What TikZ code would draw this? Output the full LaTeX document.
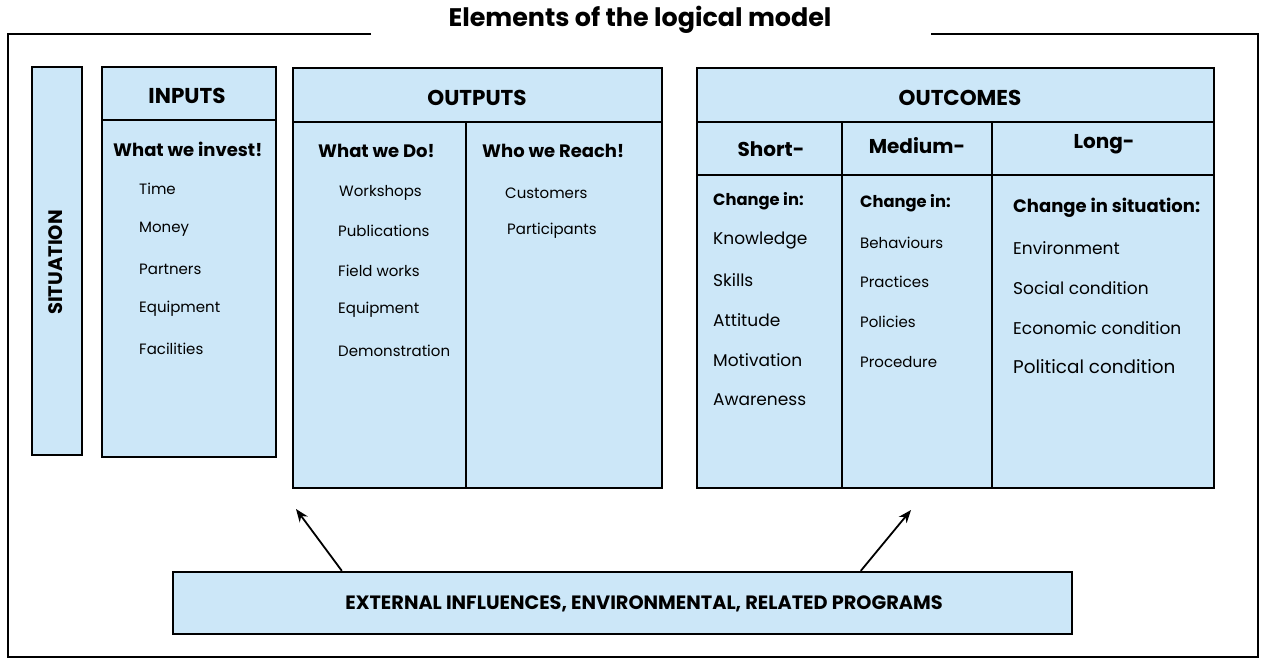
\documentclass[tikz,border=0pt]{standalone}
\usepackage{fontspec}
\setmainfont{Poppins}
\usetikzlibrary{arrows.meta}
\definecolor{boxblue}{HTML}{CCE7F8}
\begin{document}
\begin{tikzpicture}[x=1pt,y=-1pt,
  panel/.style={draw=black, line width=2.4pt, fill=boxblue, inner sep=0pt},
  divider/.style={line width=2pt},
  frame/.style={line width=1.6pt},
  head/.style={font=\bfseries\fontsize{21.5}{21.5}\selectfont, inner sep=0pt},
  colhead/.style={font=\bfseries\fontsize{20}{20}\selectfont, inner sep=0pt},
  sub/.style={font=\bfseries\fontsize{18}{18}\selectfont, anchor=west, inner sep=0pt},
  chg/.style={font=\bfseries\fontsize{16.3}{16.3}\selectfont, anchor=west, inner sep=0pt},
  item/.style={font=\fontsize{15}{15}\selectfont, anchor=west, inner sep=0pt},
  bigitem/.style={font=\fontsize{17}{17}\selectfont, anchor=west, inner sep=0pt},
  arr/.style={-{Stealth[length=13pt,width=10pt]}, line width=1.8pt}]

\useasboundingbox (0,0) rectangle (1265,660);
\fill[white] (0,0) rectangle (1265,660);

% title and frame
\node[font=\bfseries\fontsize{25.4}{25.4}\selectfont, inner sep=0pt] (title) at (640,20) {Elements of the logical model};
\draw[frame] (371,34) -- (8,34) -- (8,657) -- (1258,657) -- (1258,34) -- (931,34);

% situation
\node[panel, minimum width=50pt, minimum height=388pt] (sit) at (57,261) {};
\node[font=\bfseries\fontsize{19.5}{19.5}\selectfont, inner sep=0pt, rotate=90] (sittext) at (56,262.5) {SITUATION};

% inputs
\node[panel, minimum width=174pt, minimum height=390pt] (inputs) at (189,262) {};
\draw[divider] (102,120) -- (276,120);
\node[head] (inh) at (187,96) {INPUTS};
\node[sub] (ins) at (113,149) {What we invest!};
\node[item] (in1) at (139,189) {Time};
\node[item] (in2) at (139,229) {Money};
\node[item] (in3) at (139,269) {Partners};
\node[item] (in4) at (139,309) {Equipment};
\node[item] (in5) at (139,349) {Facilities};

% outputs
\node[panel, minimum width=369pt, minimum height=420pt] (outputs) at (477.5,278) {};
\draw[divider] (293,122) -- (662,122);
\draw[divider] (466,122) -- (466,488);
\node[head] (outh) at (477,98) {OUTPUTS};
\node[sub] (outs1) at (318,151) {What we Do!};
\node[item] (o1) at (339,193) {Workshops};
\node[item] (o2) at (338,231) {Publications};
\node[item] (o3) at (338,271) {Field works};
\node[item] (o4) at (338,310) {Equipment};
\node[item] (o5) at (338,351) {Demonstration};
\node[sub] (outs2) at (482,151) {Who we Reach!};
\node[item] (r1) at (505,193) {Customers};
\node[item] (r2) at (507,231) {Participants};

% outcomes
\node[panel, minimum width=517pt, minimum height=420pt] (outcomes) at (955.5,278) {};
\draw[divider] (697,122) -- (1214,122);
\draw[divider] (697,175) -- (1214,175);
\draw[divider] (842,122) -- (842,488);
\draw[divider] (992,122) -- (992,488);
\node[head] (ocH) at (960,98) {OUTCOMES};
\node[colhead] (shortH) at (771,149) {Short-};
\node[colhead] (medH) at (917,146) {Medium-};
\node[colhead] (longH) at (1104,144) {Long-};

\node[chg] (sc) at (713,201) {Change in:};
\node[bigitem] (s1) at (713,241) {Knowledge};
\node[bigitem] (s2) at (713,280) {Skills};
\node[bigitem] (s3) at (713,320) {Attitude};
\node[bigitem] (s4) at (713,360) {Motivation};
\node[bigitem] (s5) at (713,400) {Awareness};

\node[chg] (mc) at (860,203) {Change in:};
\node[item] (m1) at (860,243) {Behaviours};
\node[item] (m2) at (860,282) {Practices};
\node[item] (m3) at (860,322) {Policies};
\node[item] (m4) at (860,362) {Procedure};

\node[sub] (lc) at (1013,208) {Change in situation:};
\node[bigitem] (l1) at (1013,248) {Environment};
\node[bigitem] (l2) at (1013,288) {Social condition};
\node[bigitem] (l3) at (1013,328) {Economic condition};
\node[bigitem, font=\fontsize{18.4}{18.4}\selectfont] (l4) at (1013,367) {Political condition};

% external influences
\node[panel, minimum width=899pt, minimum height=62pt] (ext) at (622.5,603) {};
\node[font=\bfseries\fontsize{19.3}{19.3}\selectfont, inner sep=0pt] (exttext) at (644,604) {EXTERNAL INFLUENCES, ENVIRONMENTAL, RELATED PROGRAMS};

\coordinate (tipL) at (296,509);
\coordinate (tipR) at (911,510);
\draw[arr] ([xshift=170pt]ext.north west) -- (tipL);
\draw[arr] ([xshift=689pt]ext.north west) -- (tipR);
\end{tikzpicture}
\end{document}
